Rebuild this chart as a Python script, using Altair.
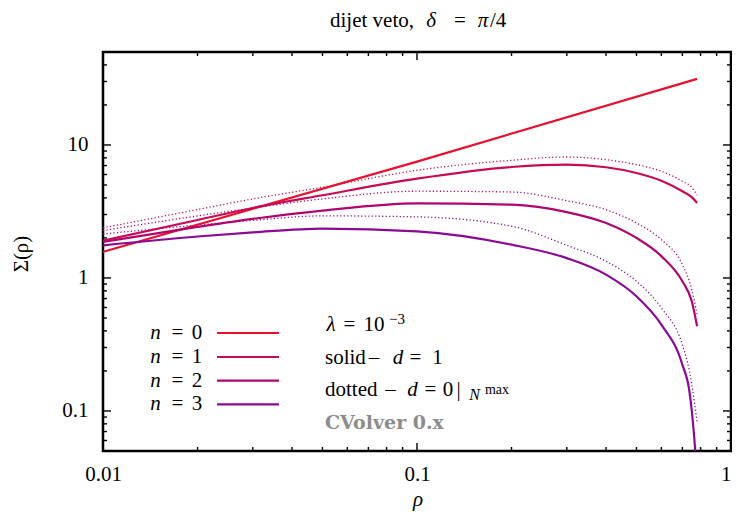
import altair as alt
import pandas as pd

FONT = "Liberation Serif, DejaVu Serif, serif"

# ---------------- data ----------------
series_names = ["n = 0", "n = 1", "n = 2", "n = 3"]
colors = ["#e8102e", "#c80a55", "#b0056e", "#8a0a96"]

rho_n0 = [0.01, 0.1, 0.78]
sig_n0 = [1.57, 7.5, 31.4]

rho_std = [0.01, 0.02, 0.03, 0.05, 0.1, 0.2, 0.3, 0.4, 0.5, 0.6, 0.7, 0.75, 0.78]
sig_n1_solid = [1.91, 2.73, 3.36, 4.19, 5.58, 6.83, 7.11, 6.80, 6.16, 5.39, 4.49, 4.05, 3.66]
sig_n1_dot = [2.38, 3.27, 3.93, 4.81, 6.45, 7.67, 8.12, 7.75, 7.11, 6.34, 5.33, 4.80, 4.19]
sig_n2_solid = [1.87, 2.42, 2.78, 3.21, 3.64, 3.56, 3.13, 2.59, 2.00, 1.46, 0.944, 0.668, 0.433]
sig_n2_dot = [2.27, 2.93, 3.36, 3.93, 4.49, 4.43, 3.81, 3.26, 2.59, 1.94, 1.26, 0.817, 0.53]

rho_n3_solid = [0.01, 0.02, 0.03, 0.05, 0.1, 0.2, 0.3, 0.4, 0.5, 0.6, 0.7, 0.737, 0.764, 0.772]
sig_n3_solid = [1.76, 2.05, 2.20, 2.35, 2.24, 1.78, 1.41, 1.06, 0.728, 0.446, 0.223, 0.141, 0.0626, 0.045]
rho_n3_dot = [0.01, 0.02, 0.03, 0.05, 0.1, 0.2, 0.3, 0.4, 0.5, 0.6, 0.7, 0.737, 0.764, 0.78]
sig_n3_dot = [2.14, 2.50, 2.71, 2.93, 2.88, 2.45, 1.76, 1.335, 0.944, 0.595, 0.315, 0.20, 0.119, 0.0813]

x_major = [0.01, 0.1, 1]
x_minor = [0.02, 0.03, 0.04, 0.05, 0.06, 0.07, 0.08, 0.09,
           0.2, 0.3, 0.4, 0.5, 0.6, 0.7, 0.8, 0.9]
y_major = [0.1, 1, 10]
y_minor = [0.06, 0.07, 0.08, 0.09,
           0.2, 0.3, 0.4, 0.5, 0.6, 0.7, 0.8, 0.9,
           2, 3, 4, 5, 6, 7, 8, 9, 20, 30, 40]

# ---------------- table ----------------
rows = []


def add(name, kind, rs, ss):
    for r, s in zip(rs, ss):
        rows.append({"n": name, "kind": kind, "rho": r, "sigma": s})


add("n = 0", "solid", rho_n0, sig_n0)
add("n = 1", "solid", rho_std, sig_n1_solid)
add("n = 1", "dotted", rho_std, sig_n1_dot)
add("n = 2", "solid", rho_std, sig_n2_solid)
add("n = 2", "dotted", rho_std, sig_n2_dot)
add("n = 3", "solid", rho_n3_solid, sig_n3_solid)
add("n = 3", "dotted", rho_n3_dot, sig_n3_dot)
df = pd.DataFrame(rows)

W, H = 628, 399
MAJ, MIN = 8, 4

xscale = alt.Scale(type="log", domain=[0.01, 1], nice=False)
yscale = alt.Scale(type="log", domain=[0.05, 50], nice=False)
cscale = alt.Scale(domain=series_names, range=colors)

x_axis = alt.Axis(values=x_major, ticks=False, domain=False, grid=False,
                  title=None, format="~g", labelFlush=False, labelPadding=12,
                  labelAlign={"condition": {"test": "datum.value >= 1", "value": "right"},
                              "value": "center"},
                  labelFont=FONT, labelFontSize=21, labelColor="black")
y_axis = alt.Axis(values=y_major, ticks=False, domain=False, grid=False,
                  title=None, format="~g", labelPadding=15,
                  labelFont=FONT, labelFontSize=21, labelColor="black")

XE = dict(scale=xscale, axis=x_axis)
YE = dict(scale=yscale, axis=y_axis)

base = alt.Chart(df)

dotted = base.transform_filter(alt.datum.kind == "dotted").mark_line(
    clip=True, interpolate="monotone", strokeWidth=1.3, strokeDash=[1.2, 2.3]
).encode(
    x=alt.X("rho:Q", **XE),
    y=alt.Y("sigma:Q", **YE),
    color=alt.Color("n:N", scale=cscale, legend=None),
)
solid = base.transform_filter(alt.datum.kind == "solid").mark_line(
    clip=True, interpolate="monotone", strokeWidth=2.2
).encode(
    x=alt.X("rho:Q", **XE),
    y=alt.Y("sigma:Q", **YE),
    color=alt.Color("n:N", scale=cscale, legend=None),
)


# inward tick marks on all four sides, placed through the scales
def xticks(vals, length):
    d = pd.DataFrame({"v": vals})
    c = alt.Chart(d).mark_rule(color="black", strokeWidth=1.4)
    bottom = c.encode(x=alt.X("v:Q", **XE),
                      y=alt.value(H), y2=alt.value(H - length))
    top = c.encode(x=alt.X("v:Q", **XE),
                   y=alt.value(0), y2=alt.value(length))
    return [bottom, top]


def yticks(vals, length):
    d = pd.DataFrame({"v": vals})
    c = alt.Chart(d).mark_rule(color="black", strokeWidth=1.4)
    left = c.encode(y=alt.Y("v:Q", **YE),
                    x=alt.value(0), x2=alt.value(length))
    right = c.encode(y=alt.Y("v:Q", **YE),
                     x=alt.value(W), x2=alt.value(W - length))
    return [left, right]


tick_layers = (xticks(x_major, MAJ) + xticks(x_minor, MIN)
               + yticks(y_major, MAJ) + yticks(y_minor, MIN))

one = pd.DataFrame({"k": [0]})


def txt(s, x, y, size=21, style="normal", weight="normal", color="black",
        align="left", angle=0, font=FONT):
    return alt.Chart(one).mark_text(
        text=s, font=font, fontSize=size, fontStyle=style, fontWeight=weight,
        color=color, align=align, baseline="middle", angle=angle
    ).encode(x=alt.value(x), y=alt.value(y))


texts = []
# title
TY = -31.5
texts += [
    txt("dijet veto,", 227, TY),
    txt("δ", 328, TY, style="italic", align="center"),
    txt("=", 357, TY, align="center"),
    txt("π", 380, TY, style="italic", align="center"),
    txt("/4", 387, TY),
]
# axis titles
texts += [
    txt("Σ(ρ)", -81, 202, align="center", angle=270),
    txt("ρ", 315, 448, align="center", style="italic"),
]
# legend
legend_y = [281, 305, 328.7, 352.3]
for i, name in enumerate(series_names):
    yy = legend_y[i]
    texts.append(txt("n", 52.5, yy, style="italic", align="center"))
    texts.append(txt("=", 74.5, yy, align="center"))
    texts.append(txt(name.split("= ")[1], 94, yy, align="center"))
    texts.append(
        alt.Chart(one).mark_rule(color=colors[i], strokeWidth=2.2).encode(
            x=alt.value(114), x2=alt.value(176), y=alt.value(yy))
    )
# annotation block
texts += [
    txt("λ", 228, 273, style="italic", align="center"),
    txt("=", 246.5, 273, align="center"),
    txt("10", 271, 273, align="center"),
    txt("−3", 294, 266.5, size=15, align="center"),
    txt("solid", 222, 306),
    txt("–", 271, 306, align="center"),
    txt("d", 295, 306, style="italic", align="center"),
    txt("=", 312.5, 306, align="center"),
    txt("1", 334.5, 306, align="center"),
    txt("dotted", 222, 338),
    txt("–", 287.5, 338, align="center"),
    txt("d", 309.5, 338, style="italic", align="center"),
    txt("=", 327.5, 338, align="center"),
    txt("0", 345, 338, align="center"),
    txt("|", 355.5, 338, align="center"),
    txt("N", 371.5, 342.6, size=16, style="italic", align="center"),
    txt("max", 394, 338, size=14, align="center"),
    txt("CVolver 0.x", 222, 371, size=19, weight="bold", color="#8c8c8c",
        font="DejaVu Serif"),
]

chart = alt.layer(dotted, solid, *tick_layers, *texts).properties(
    width=W, height=H,
    autosize=alt.AutoSizeParams(type="none"),
    padding={"left": 95, "top": 44, "right": 1, "bottom": 61},
).configure_view(stroke="black", strokeWidth=2.5)

chart.save("out.html", embed_options={"renderer": "svg", "actions": False})
